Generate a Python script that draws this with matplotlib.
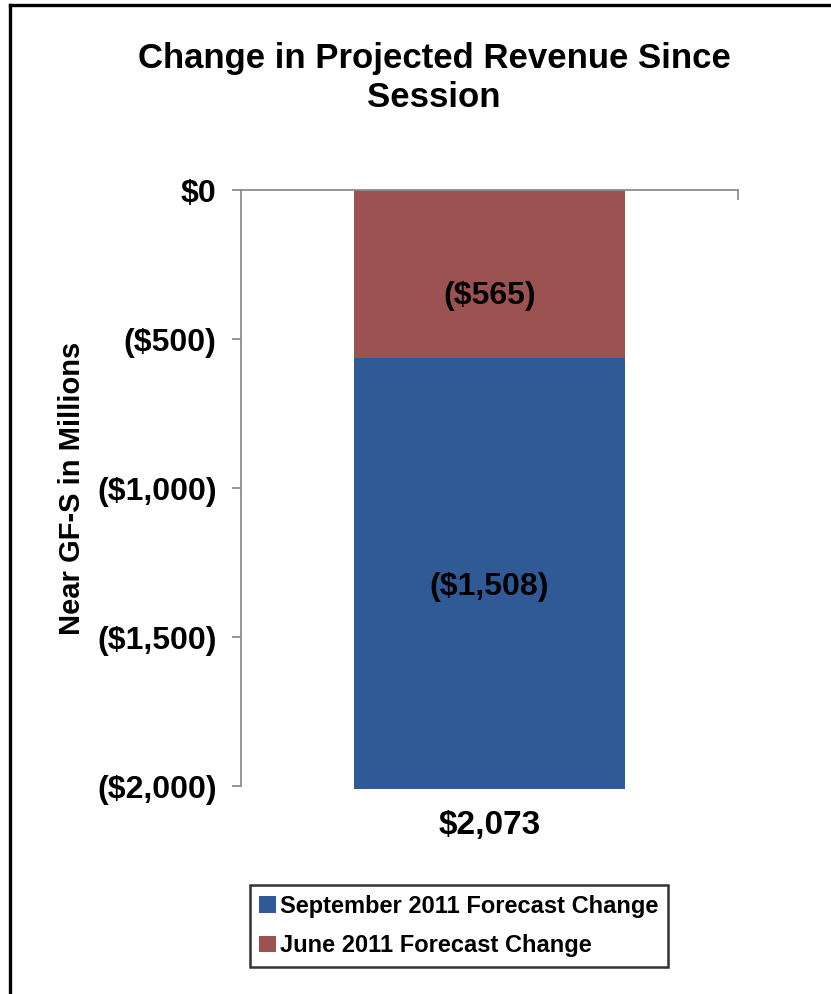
import numpy as np
import matplotlib.pyplot as plt
from matplotlib.lines import Line2D
from matplotlib.ticker import FixedLocator

plt.rcParams['font.family'] = ['Liberation Sans', 'DejaVu Sans']
plt.rcParams['font.weight'] = 'bold'

# Data (millions)
category = ['$2,073']
june_change = [-565]
sept_change = [-1508]
series_names = ['September 2011 Forecast Change', 'June 2011 Forecast Change']
yticks = [0, -500, -1000, -1500, -2000]
ytick_labels = ['$0', '($500)', '($1,000)', '($1,500)', '($2,000)']

red = '#9D5252'
blue = '#2F5A96'
gray = '#8C8C8C'

fig = plt.figure(figsize=(8.31, 9.94), dpi=100)
ax = fig.add_axes([241/831, 1 - 789/994, (738 - 241)/831, (789 - 190)/994])

x = np.arange(len(category))
bw = 0.547
b_june = ax.bar(x, june_change, width=bw, color=red, label=series_names[1], zorder=2)
b_sept = ax.bar(x, sept_change, width=bw, bottom=june_change, color=blue,
                label=series_names[0], zorder=2)

ax.set_xlim(-0.5, 0.5)
ax.set_ylim(-2010, 0)

# data labels
for i in x:
    ax.annotate('(${:,})'.format(-june_change[i]), (i, june_change[i] / 2),
                xytext=(0, -16), textcoords='offset points',
                ha='center', va='center', fontsize=23, fontweight='bold')
    ax.annotate('(${:,})'.format(-sept_change[i]),
                (i, june_change[i] + sept_change[i] / 2),
                xytext=(0, -3), textcoords='offset points',
                ha='center', va='center', fontsize=23, fontweight='bold')

# spines
for s in ['right', 'bottom']:
    ax.spines[s].set_visible(False)
ax.spines['left'].set_color(gray)
ax.spines['left'].set_bounds(-2000, 0)
ax.spines['top'].set_color(gray)
ax.spines['left'].set_linewidth(1.3)
ax.spines['top'].set_linewidth(1.3)

ax.set_yticks(yticks)
ax.set_yticklabels(ytick_labels)
ax.tick_params(axis='y', direction='out', length=6.5, width=1.3, color=gray,
               pad=11, labelsize=23)
ax.set_xticks(x)
ax.set_xticklabels(category)
ax.tick_params(axis='x', which='major', length=0, pad=15, labelsize=24)
ax.xaxis.set_minor_locator(FixedLocator([0.5]))
ax.tick_params(axis='x', which='minor', top=True, bottom=False, direction='in',
               length=7, width=1.3, color=gray)
for t in ax.get_xticklabels() + ax.get_yticklabels():
    t.set_fontweight('bold')

ax.set_ylabel('Near GF-S in Millions', fontsize=21, fontweight='bold')
ax.yaxis.set_label_coords(86/831, 1 - 488/994, transform=fig.transFigure)

fig.text(434/831, 1 - 78/994, 'Change in Projected Revenue Since\nSession',
         ha='center', va='center', fontsize=25, fontweight='bold', linespacing=1.2)

leg = fig.legend(handles=[b_sept, b_june], labels=series_names,
                 loc='center', bbox_to_anchor=(459/831, 1 - 926/994),
                 fontsize=17, frameon=True, fancybox=False, edgecolor='black',
                 handlelength=0.7, handleheight=0.7, handletextpad=0.2,
                 borderpad=0.4, labelspacing=0.7, borderaxespad=0)
leg.get_frame().set_linewidth(1.8)
for t in leg.get_texts():
    t.set_fontweight('bold')

# outer frame
fig.add_artist(Line2D([10/831, 10/831], [0, 1 - 5/994], color='black', lw=2.4,
                      transform=fig.transFigure))
fig.add_artist(Line2D([10/831, 1], [1 - 5/994, 1 - 5/994], color='black', lw=2.4,
                      transform=fig.transFigure))

fig.savefig('out.png', dpi=100)
